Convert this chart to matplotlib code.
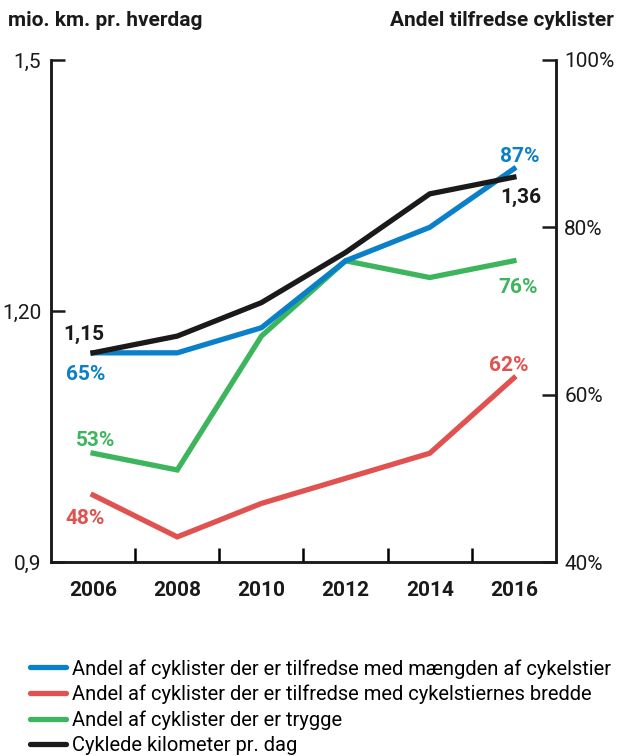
import matplotlib

matplotlib.use("Agg")
import matplotlib.pyplot as plt
from matplotlib.lines import Line2D
import numpy as np

plt.rcParams["font.family"] = ["Roboto", "DejaVu Sans"]

# data
years = ["2006", "2008", "2010", "2012", "2014", "2016"]
km_per_day = [1.15, 1.17, 1.21, 1.27, 1.34, 1.36]          # left axis, mio. km
share_paths = [65, 65, 68, 76, 80, 87]                     # right axis, %
share_width = [48, 43, 47, 50, 53, 62]
share_safe = [53, 51, 67, 76, 74, 76]

legend_labels = [
    "Andel af cyklister der er tilfredse med mængden af cykelstier",
    "Andel af cyklister der er tilfredse med cykelstiernes bredde",
    "Andel af cyklister der er trygge",
    "Cyklede kilometer pr. dag",
]

BLUE = "#0a80c9"
RED = "#e0514f"
GREEN = "#3db55c"
BLACK = "#1a1a1a"
LW = 3.8

fig = plt.figure(figsize=(6.2, 7.56), dpi=100)
ax = fig.add_axes([51 / 620, 1 - 562 / 756, (556 - 51) / 620, (562 - 60) / 756])
ax2 = ax.twinx()

x = np.arange(len(years))

ax2.plot(x, share_width, color=RED, lw=LW, solid_joinstyle="miter", zorder=2)
ax2.plot(x, share_safe, color=GREEN, lw=LW, solid_joinstyle="miter", zorder=3)
ax2.plot(x, share_paths, color=BLUE, lw=LW, solid_joinstyle="miter", zorder=4)

# black line on the left axis, drawn above the others
ax.set_zorder(ax2.get_zorder() + 1)
ax.patch.set_visible(False)
ax.plot(x, km_per_day, color=BLACK, lw=LW, solid_joinstyle="miter", zorder=5)

ax.set_xlim(-0.5, len(years) - 0.5)
ax.set_ylim(0.9, 1.5)
ax2.set_ylim(40, 100)

for a in (ax, ax2):
    for s in a.spines.values():
        s.set_linewidth(1.8)
        s.set_color(BLACK)
    a.spines["top"].set_visible(False)

ax.set_yticks([0.9, 1.2, 1.5])
ax.set_yticklabels(["0,9", "1,20", "1,5"])
ax2.set_yticks([40, 60, 80, 100])
ax2.set_yticklabels(["40%", "60%", "80%", "100%"])
ax.tick_params(axis="y", direction="in", length=10, width=1.8, pad=7, labelsize=15, colors=BLACK)
ax2.tick_params(axis="y", direction="in", length=10, width=1.8, pad=6, labelsize=15, colors=BLACK)

ax.set_xticks(x)
ax.set_xticklabels(years, fontweight="bold", fontsize=15)
ax.tick_params(axis="x", length=0, pad=14, colors=BLACK)
ax.set_xticks(x[:-1] + 0.5, minor=True)
ax.tick_params(axis="x", which="minor", direction="in", length=10, width=1.8)


def label(axis, xi, yi, txt, color, dx, dy):
    axis.annotate(txt, (xi, yi), xytext=(dx, dy), textcoords="offset pixels",
                  ha="center", va="center", color=color, fontsize=15,
                  fontweight="bold", zorder=10)


label(ax, 0, km_per_day[0], "1,15", BLACK, -9, 18)
label(ax2, 0, share_paths[0], "65%", BLUE, -7, -22)
label(ax2, 0, share_safe[0], "53%", GREEN, 3, 13)
label(ax2, 0, share_width[0], "48%", RED, -8, -23)
label(ax2, 5, share_paths[-1], "87%", BLUE, 6, 12)
label(ax, 5, km_per_day[-1], "1,36", BLACK, 7, -20)
label(ax2, 5, share_safe[-1], "76%", GREEN, 4, -27)
label(ax2, 5, share_width[-1], "62%", RED, -5, 12)

fig.text(8 / 620, 1 - 20 / 756, "mio. km. pr. hverdag", ha="left", va="center",
         fontsize=15, fontweight="bold", color=BLACK)
fig.text(614 / 620, 1 - 20 / 756, "Andel tilfredse cyklister", ha="right", va="center",
         fontsize=15, fontweight="bold", color=BLACK)

handles = [Line2D([], [], color=c, lw=3.8, solid_capstyle="round")
           for c in (BLUE, RED, GREEN, BLACK)]
fig.legend(handles, legend_labels, loc="upper left", bbox_to_anchor=(30 / 620, 1 - 659 / 756),
           frameon=False, fontsize=14.5, handlelength=1.8, handletextpad=0.3,
           labelspacing=0.3, borderaxespad=0, borderpad=0)

fig.savefig("out.png", dpi=100)
